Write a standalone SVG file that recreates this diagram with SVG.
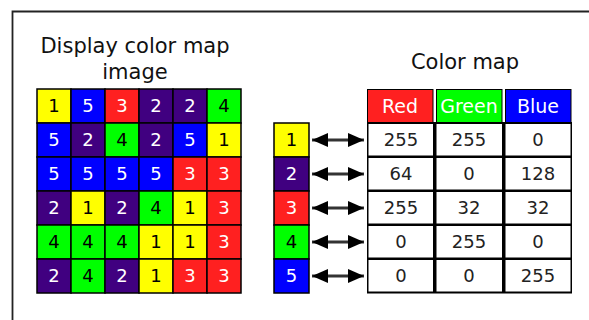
<svg xmlns="http://www.w3.org/2000/svg" width="589" height="320" viewBox="0 0 589 320">
<style>
text{font-family:"DejaVu Sans","Liberation Sans",sans-serif;text-anchor:middle}
.title{font-size:21px;fill:#111}
.d{font-size:18px}
.w{fill:#fff}
.k{fill:#000}
.cell{stroke:#000;stroke-width:1.5}
.c1{fill:#ffff00}.c2{fill:#400080}.c3{fill:#ff2020}.c4{fill:#00ff00}.c5{fill:#0000ff}
.hdr{font-size:19px;fill:#fff}
.num{font-size:18px;fill:#222}
.arr{stroke:#333;stroke-width:3;fill:none;marker-start:url(#ah);marker-end:url(#ah)}
</style>
<defs>
<marker id="ah" viewBox="0 0 16 14" refX="16" refY="7" markerWidth="16" markerHeight="14" markerUnits="userSpaceOnUse" orient="auto-start-reverse">
<path d="M0,0 L16,7 L0,14 z" fill="#000"/>
</marker>
</defs>
<rect width="589" height="320" fill="#fff"/>
<path d="M12.5,320 V11.5 H589" fill="none" stroke="#222" stroke-width="1.8"/>

<g id="image-title">
<text class="title" x="135" y="53">Display color map</text>
<text class="title" x="135" y="79">image</text>
</g>

<g id="display-image">
<g class="cell">
<rect class="c1" x="37" y="89" width="34" height="34"/><rect class="c5" x="71" y="89" width="34" height="34"/><rect class="c3" x="105" y="89" width="34" height="34"/><rect class="c2" x="139" y="89" width="34" height="34"/><rect class="c2" x="173" y="89" width="34" height="34"/><rect class="c4" x="207" y="89" width="34" height="34"/>
<rect class="c5" x="37" y="123" width="34" height="34"/><rect class="c2" x="71" y="123" width="34" height="34"/><rect class="c4" x="105" y="123" width="34" height="34"/><rect class="c2" x="139" y="123" width="34" height="34"/><rect class="c5" x="173" y="123" width="34" height="34"/><rect class="c1" x="207" y="123" width="34" height="34"/>
<rect class="c5" x="37" y="157" width="34" height="34"/><rect class="c5" x="71" y="157" width="34" height="34"/><rect class="c5" x="105" y="157" width="34" height="34"/><rect class="c5" x="139" y="157" width="34" height="34"/><rect class="c3" x="173" y="157" width="34" height="34"/><rect class="c3" x="207" y="157" width="34" height="34"/>
<rect class="c2" x="37" y="191" width="34" height="34"/><rect class="c1" x="71" y="191" width="34" height="34"/><rect class="c2" x="105" y="191" width="34" height="34"/><rect class="c4" x="139" y="191" width="34" height="34"/><rect class="c1" x="173" y="191" width="34" height="34"/><rect class="c3" x="207" y="191" width="34" height="34"/>
<rect class="c4" x="37" y="225" width="34" height="34"/><rect class="c4" x="71" y="225" width="34" height="34"/><rect class="c4" x="105" y="225" width="34" height="34"/><rect class="c1" x="139" y="225" width="34" height="34"/><rect class="c1" x="173" y="225" width="34" height="34"/><rect class="c3" x="207" y="225" width="34" height="34"/>
<rect class="c2" x="37" y="259" width="34" height="34"/><rect class="c4" x="71" y="259" width="34" height="34"/><rect class="c2" x="105" y="259" width="34" height="34"/><rect class="c1" x="139" y="259" width="34" height="34"/><rect class="c3" x="173" y="259" width="34" height="34"/><rect class="c3" x="207" y="259" width="34" height="34"/>
</g>
<g class="d">
<text class="k" x="54" y="112">1</text><text class="w" x="88" y="112">5</text><text class="w" x="122" y="112">3</text><text class="w" x="156" y="112">2</text><text class="w" x="190" y="112">2</text><text class="k" x="224" y="112">4</text>
<text class="w" x="54" y="146">5</text><text class="w" x="88" y="146">2</text><text class="k" x="122" y="146">4</text><text class="w" x="156" y="146">2</text><text class="w" x="190" y="146">5</text><text class="k" x="224" y="146">1</text>
<text class="w" x="54" y="180">5</text><text class="w" x="88" y="180">5</text><text class="w" x="122" y="180">5</text><text class="w" x="156" y="180">5</text><text class="w" x="190" y="180">3</text><text class="w" x="224" y="180">3</text>
<text class="w" x="54" y="214">2</text><text class="k" x="88" y="214">1</text><text class="w" x="122" y="214">2</text><text class="k" x="156" y="214">4</text><text class="k" x="190" y="214">1</text><text class="w" x="224" y="214">3</text>
<text class="k" x="54" y="248">4</text><text class="k" x="88" y="248">4</text><text class="k" x="122" y="248">4</text><text class="k" x="156" y="248">1</text><text class="k" x="190" y="248">1</text><text class="w" x="224" y="248">3</text>
<text class="w" x="54" y="282">2</text><text class="k" x="88" y="282">4</text><text class="w" x="122" y="282">2</text><text class="k" x="156" y="282">1</text><text class="w" x="190" y="282">3</text><text class="w" x="224" y="282">3</text>
</g>
</g>

<g id="legend-1"><rect class="cell c1" x="274" y="123" width="35" height="34"/><text class="d k" x="291.5" y="146">1</text></g>
<g id="legend-2"><rect class="cell c2" x="274" y="157" width="35" height="34"/><text class="d w" x="291.5" y="180">2</text></g>
<g id="legend-3"><rect class="cell c3" x="274" y="191" width="35" height="34"/><text class="d w" x="291.5" y="214">3</text></g>
<g id="legend-4"><rect class="cell c4" x="274" y="225" width="35" height="34"/><text class="d k" x="291.5" y="248">4</text></g>
<g id="legend-5"><rect class="cell c5" x="274" y="259" width="35" height="34"/><text class="d w" x="291.5" y="282">5</text></g>

<g id="connectors">
<line class="arr" x1="312" y1="140" x2="364" y2="140"/>
<line class="arr" x1="312" y1="174" x2="364" y2="174"/>
<line class="arr" x1="312" y1="208" x2="364" y2="208"/>
<line class="arr" x1="312" y1="242" x2="364" y2="242"/>
<line class="arr" x1="312" y1="276" x2="364" y2="276"/>
</g>

<g id="color-map">
<text class="title" x="465" y="69">Color map</text>
<rect x="367.5" y="89.5" width="65.5" height="33" fill="#ff2020" stroke="#000"/>
<rect x="436.5" y="89.5" width="65.5" height="33" fill="#00ff00" stroke="#000"/>
<rect x="505.5" y="89.5" width="65.5" height="33" fill="#0000ff" stroke="#000"/>
<text class="hdr" x="400" y="113">Red</text>
<text class="hdr" x="469" y="113">Green</text>
<text class="hdr" x="538" y="113">Blue</text>
<rect x="367" y="122" width="205" height="171.5" fill="#000"/>
<g fill="#fff">
<rect x="368.5" y="124" width="64.5" height="31.5"/><rect x="436.5" y="124" width="65.5" height="31.5"/><rect x="505.5" y="124" width="65" height="31.5"/>
<rect x="368.5" y="158" width="64.5" height="31.5"/><rect x="436.5" y="158" width="65.5" height="31.5"/><rect x="505.5" y="158" width="65" height="31.5"/>
<rect x="368.5" y="192" width="64.5" height="31.5"/><rect x="436.5" y="192" width="65.5" height="31.5"/><rect x="505.5" y="192" width="65" height="31.5"/>
<rect x="368.5" y="226" width="64.5" height="31.5"/><rect x="436.5" y="226" width="65.5" height="31.5"/><rect x="505.5" y="226" width="65" height="31.5"/>
<rect x="368.5" y="260" width="64.5" height="31.5"/><rect x="436.5" y="260" width="65.5" height="31.5"/><rect x="505.5" y="260" width="65" height="31.5"/>
</g>
<g class="num">
<text x="401" y="146">255</text><text x="469" y="146">255</text><text x="538" y="146">0</text>
<text x="401" y="180">64</text><text x="469" y="180">0</text><text x="538" y="180">128</text>
<text x="401" y="214">255</text><text x="469" y="214">32</text><text x="538" y="214">32</text>
<text x="401" y="248">0</text><text x="469" y="248">255</text><text x="538" y="248">0</text>
<text x="401" y="282">0</text><text x="469" y="282">0</text><text x="538" y="282">255</text>
</g>
</g>
</svg>
